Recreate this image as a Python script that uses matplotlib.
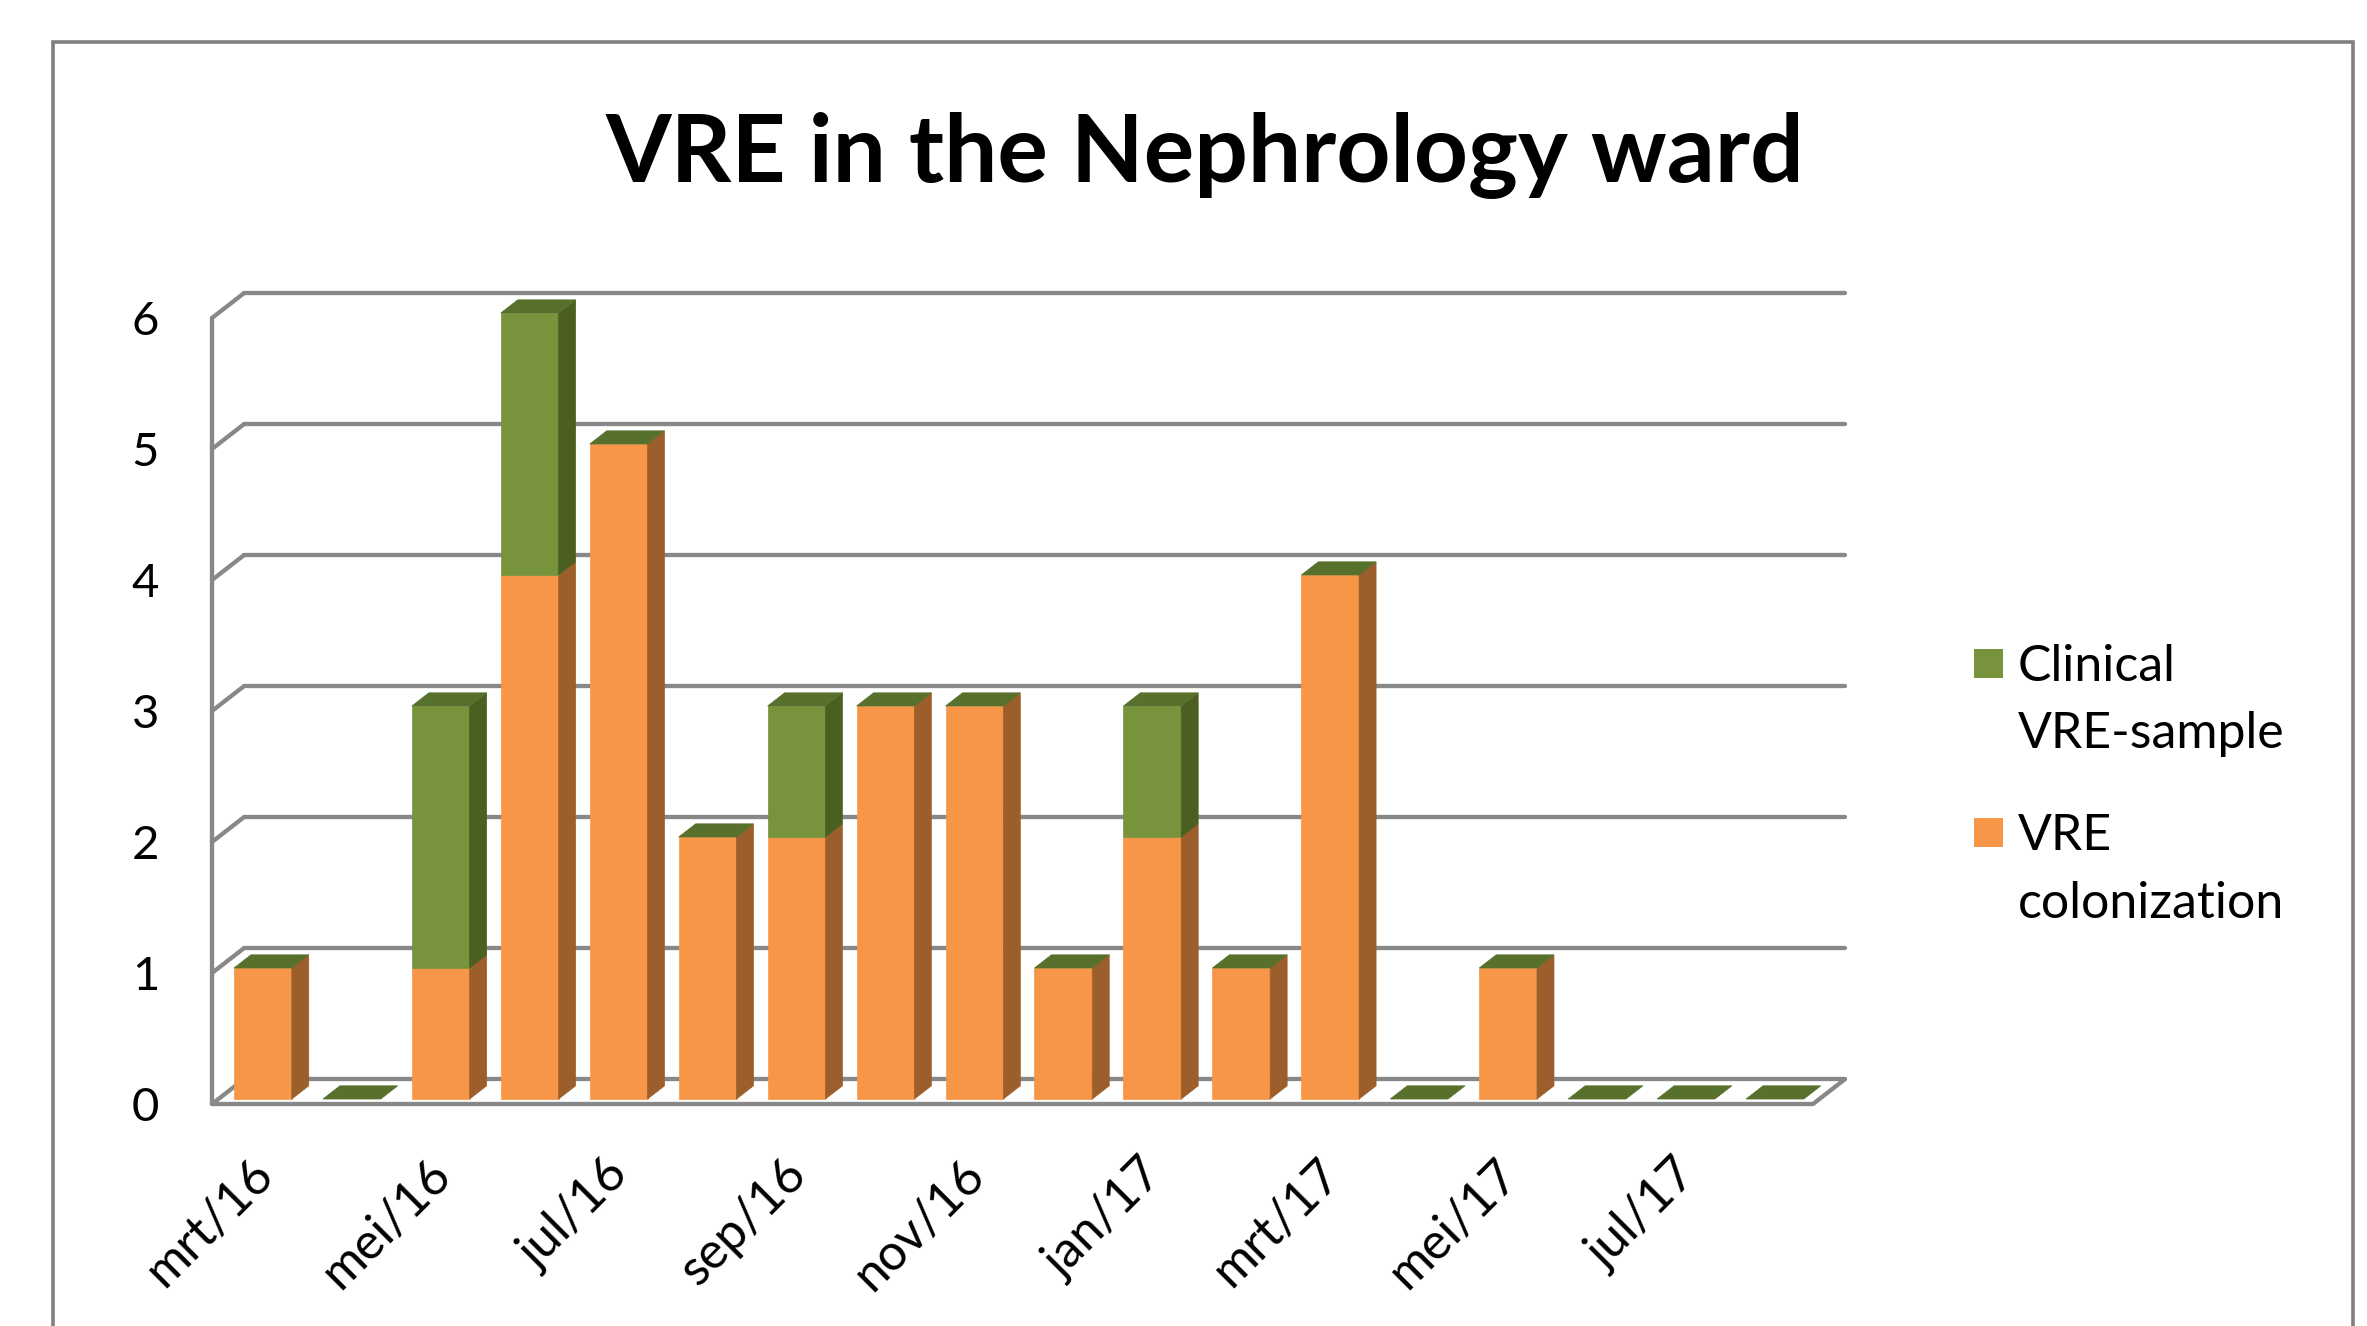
import matplotlib
matplotlib.use("Agg")
import matplotlib.pyplot as plt
from matplotlib.patches import Rectangle, Polygon

plt.rcParams['font.family'] = ['Lato', 'DejaVu Sans']

# ---- data ----
months = ['mrt/16', 'apr/16', 'mei/16', 'jun/16', 'jul/16', 'aug/16', 'sep/16', 'okt/16', 'nov/16',
          'dec/16', 'jan/17', 'feb/17', 'mrt/17', 'apr/17', 'mei/17', 'jun/17', 'jul/17', 'aug/17']
colonization = [1, 0, 1, 4, 5, 2, 2, 3, 3, 1, 2, 1, 4, 0, 1, 0, 0, 0]
clinical = [0, 0, 2, 2, 0, 0, 1, 0, 0, 0, 1, 0, 0, 0, 0, 0, 0, 0]
series_labels = ['Clinical\nVRE-sample', 'VRE\ncolonization']
yticks = [0, 1, 2, 3, 4, 5, 6]
title = 'VRE in the Nephrology ward'

# ---- style ----
W, H = 2367, 1326
DPI = 100
orange_front, orange_side = '#F79646', '#9C5F2B'
green_front, green_side, green_top = '#77933C', '#4B6020', '#57702C'
grid_col = '#888888'

fig = plt.figure(figsize=(W / DPI, H / DPI), dpi=DPI)
fig.patch.set_facecolor('white')

# outer frame
fig.patches.append(Rectangle((53 / W, -0.05), (2353 - 53) / W, 1 - 42 / H + 0.05,
                             transform=fig.transFigure, fill=False, edgecolor='#808080',
                             lw=2.6, zorder=0))

left, right = 212 / W, 1813 / W
bottom, top = 1 - 1104 / H, 1 - 318 / H
ax = fig.add_axes([left, bottom, right - left, top - bottom])
n = len(months)
ax.set_xlim(-0.5, n - 0.5)
ax.set_ylim(0, 6)
for s in ax.spines.values():
    s.set_visible(False)
ax.set_facecolor('none')
ax.set_xticks([])
ax.set_yticks(yticks)
ax.set_yticklabels([str(v) for v in yticks], fontsize=34)
ax.tick_params(axis='y', length=0, pad=38)

DX, DY = 0.36, 0.19     # depth offset (data units)
x0, x1 = -0.5, n - 0.5
lw = 3.1

# back wall gridlines + left wall diagonals
for v in yticks:
    ax.plot([x0 + DX, x1 + DX], [v + DY, v + DY], color=grid_col, lw=lw, clip_on=False,
            zorder=1, solid_capstyle='round')
    ax.plot([x0, x0 + DX], [v, v + DY], color=grid_col, lw=lw, clip_on=False, zorder=1,
            solid_capstyle='round')
# front vertical axis
ax.plot([x0, x0], [0, yticks[-1]], color=grid_col, lw=lw, clip_on=False, zorder=1,
        solid_capstyle='round')
# floor front + right diagonal
ax.plot([x0, x1, x1 + DX], [0, 0, DY], color=grid_col, lw=lw, clip_on=False, zorder=1,
        solid_joinstyle='round', solid_capstyle='round')

# bars
bw = 0.65
d0, d1 = 0.2, 0.73


def box(xc, ylo, yhi, front, side, z):
    xl = xc - bw / 2 + d0 * DX
    xr = xl + bw
    yl = ylo + d0 * DY
    yh = yhi + d0 * DY
    ddx, ddy = (d1 - d0) * DX, (d1 - d0) * DY
    if yhi > ylo:
        ax.add_patch(Rectangle((xl, yl), bw, yh - yl, facecolor=front, edgecolor=front,
                               lw=0.5, zorder=z, clip_on=False))
        ax.add_patch(Polygon([(xr, yl), (xr + ddx, yl + ddy), (xr + ddx, yh + ddy), (xr, yh)],
                             closed=True, facecolor=side, edgecolor=side, lw=0.5, zorder=z,
                             clip_on=False))


for i in range(n):
    c = colonization[i]
    g = clinical[i]
    z = 3 + i * 0.01
    box(i, 0, c, orange_front, orange_side, z)
    box(i, c, c + g, green_front, green_side, z)
    t = c + g
    xl = i - bw / 2 + d0 * DX
    yl = t + d0 * DY
    ddx, ddy = (d1 - d0) * DX, (d1 - d0) * DY
    ax.add_patch(Polygon([(xl, yl), (xl + bw, yl), (xl + bw + ddx, yl + ddy), (xl + ddx, yl + ddy)],
                         closed=True, facecolor=green_top, edgecolor=green_top, lw=0.5,
                         zorder=z + 0.005, clip_on=False))

# x tick labels (every other month)
for i in range(0, n, 2):
    ax.text(i + 0.1, -0.48, months[i], rotation=45, ha='right', va='center',
            rotation_mode='anchor', fontsize=36, clip_on=False)

# title
fig.text(1205 / W, 1 - 182 / H, title, ha='center', va='baseline', fontsize=68,
         fontweight='bold')

# legend
sq = 29
leg = [(green_front, 649, [681, 748]), (orange_front, 818, [850, 918])]
for (col, sq_top, baselines), lab in zip(leg, series_labels):
    fig.patches.append(Rectangle((1974 / W, 1 - (sq_top + sq) / H), sq / W, sq / H,
                                 transform=fig.transFigure, facecolor=col, edgecolor='none'))
    for line, b in zip(lab.split('\n'), baselines):
        fig.text(2018 / W, 1 - b / H, line, ha='left', va='baseline', fontsize=36)

fig.savefig('out.png', dpi=DPI, facecolor='white')
